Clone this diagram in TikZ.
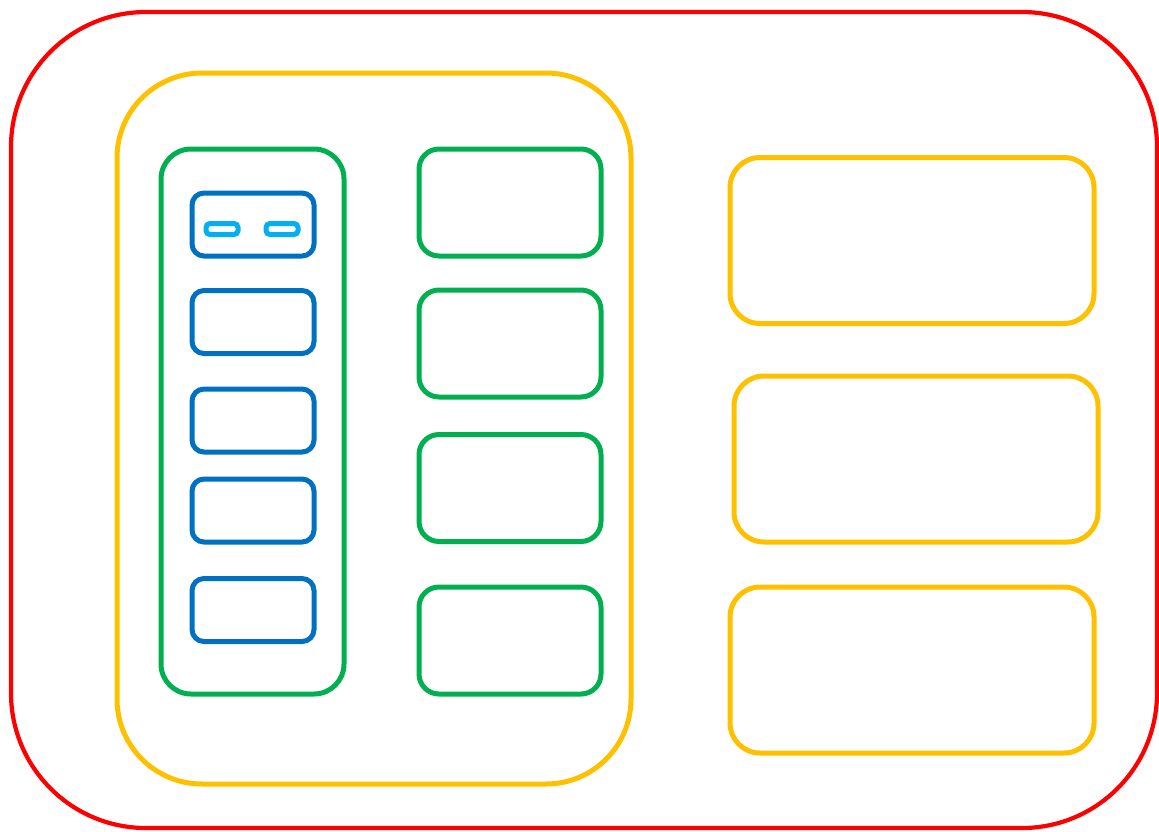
\documentclass[tikz,border=0pt]{standalone}
\begin{document}
\begin{tikzpicture}[x=1pt,y=-1pt,
  box/.style={draw,rectangle,inner sep=0pt,outer sep=0pt},
  redbox/.style={box,draw={rgb,255:red,255;green,0;blue,0},line width=4.2pt,rounded corners=135pt},
  ylwbig/.style={box,draw={rgb,255:red,255;green,192;blue,0},line width=5pt,rounded corners=85pt},
  ylwbox/.style={box,draw={rgb,255:red,255;green,192;blue,0},line width=5pt,rounded corners=30pt,minimum width=364pt,minimum height=166pt},
  grncol/.style={box,draw={rgb,255:red,0;green,176;blue,80},line width=5pt,rounded corners=30pt},
  grnbox/.style={box,draw={rgb,255:red,0;green,176;blue,80},line width=5pt,rounded corners=20pt,minimum width=182pt,minimum height=107pt},
  bluebox/.style={box,draw={rgb,255:red,0;green,112;blue,192},line width=5pt,rounded corners=12pt,minimum width=122pt,minimum height=63pt},
  cyanbox/.style={box,draw={rgb,255:red,0;green,176;blue,240},line width=5pt,rounded corners=4pt,minimum width=32pt,minimum height=11pt}]
\useasboundingbox (0,0) rectangle (1159,831);
\node[redbox,minimum width=1146pt,minimum height=816pt] (outer) at (584,420) {};
\node[ylwbig,minimum width=514pt,minimum height=711pt] (left) at (374,428.5) {};
\node[grncol,minimum width=183pt,minimum height=545pt] (col) at (252.5,421.5) {};
\node[bluebox] (b1) at (253,224.5) {};
\node[bluebox] (b2) at (253,322) {};
\node[bluebox] (b3) at (253,420.5) {};
\node[bluebox] (b4) at (253,510.5) {};
\node[bluebox] (b5) at (253,610) {};
\node[cyanbox] (c1) at (222,229) {};
\node[cyanbox] (c2) at (282,229) {};
\node[grnbox] (g1) at (510,202.5) {};
\node[grnbox] (g2) at (510,343.5) {};
\node[grnbox] (g3) at (510,488) {};
\node[grnbox] (g4) at (510,640.5) {};
\node[ylwbox] (y1) at (912,240.5) {};
\node[ylwbox] (y2) at (916,459) {};
\node[ylwbox] (y3) at (912,670) {};
\end{tikzpicture}
\end{document}
